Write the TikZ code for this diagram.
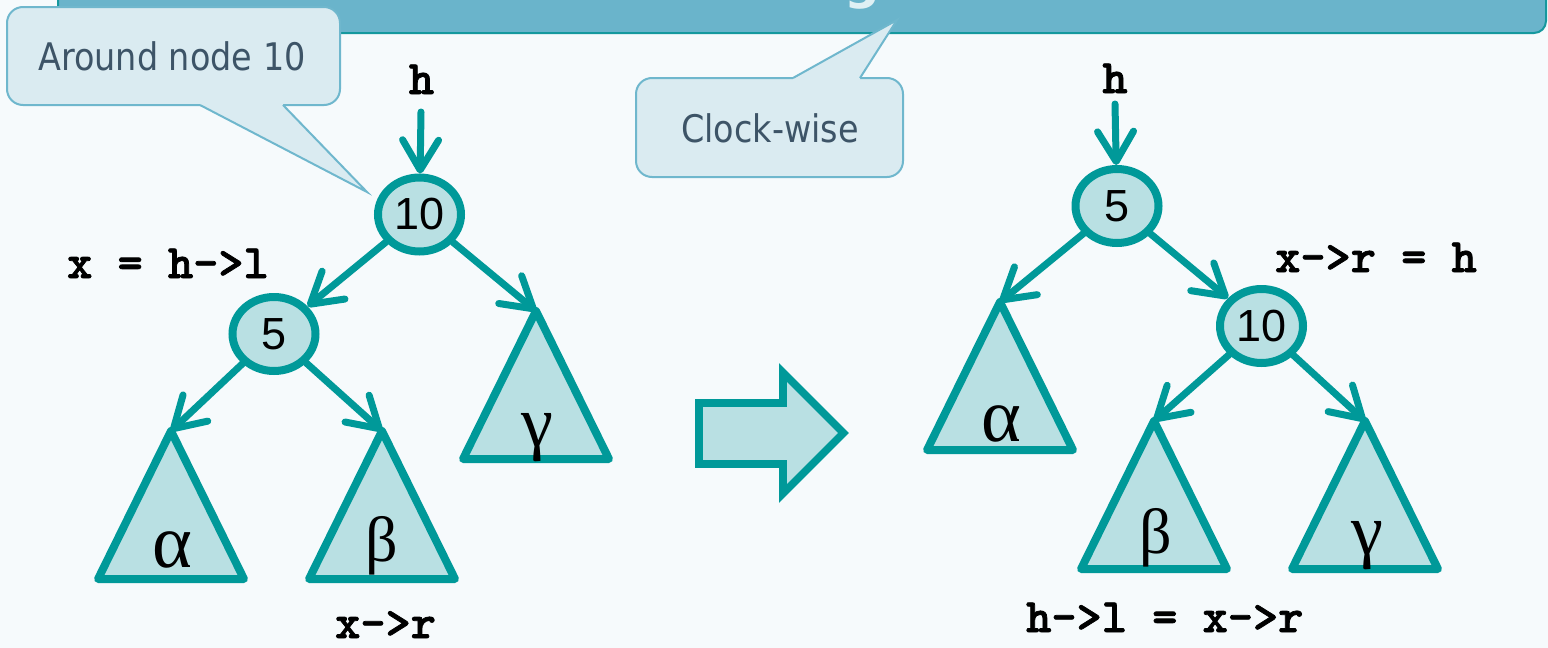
\documentclass[tikz,border=0pt]{standalone}
\usepackage{fontspec}
\usetikzlibrary{arrows.meta,shapes.geometric}
\newfontfamily\keyfont{Liberation Sans}
\newfontfamily\grkfont{Liberation Serif}
\newfontfamily\notefont{DejaVu Sans}[FakeStretch=0.88]
\newfontfamily\headfont{DejaVu Sans}
\newfontfamily\codefont{lmmonolt10-bold.otf}[FakeBold=1.6]

\definecolor{treeline}{HTML}{009999}
\definecolor{treefill}{HTML}{B9E0E3}
\definecolor{notefill}{HTML}{DAEBF1}
\definecolor{noteline}{HTML}{6FB7CD}
\definecolor{notetext}{HTML}{3D5467}
\definecolor{bannerfill}{HTML}{6AB4CB}
\definecolor{bannerline}{HTML}{15989E}
\definecolor{pagebg}{HTML}{F6FAFC}
\definecolor{headtext}{HTML}{DFF0F4}

\tikzset{
  treenode/.style={ellipse, draw=treeline, fill=treefill, line width=8pt,
    minimum width=83pt, minimum height=74pt, inner sep=0pt,
    font=\keyfont\fontsize{45}{45}\selectfont},
  link/.style={draw=treeline, line width=7pt, line cap=round,
    -{Straight Barb[length=30pt,width=36pt,round]}},
  subtree/.style={draw=treeline, fill=treefill, line width=8pt, line join=round},
  code/.style={font=\codefont\fontsize{48}{48}\selectfont, inner sep=0pt},
  greek/.style={inner sep=0pt, anchor=base},
  galpha/.style={greek, font=\grkfont\fontsize{76}{76}\selectfont},
  gbeta/.style={greek, font=\grkfont\fontsize{64}{64}\selectfont},
  ggamma/.style={greek, font=\grkfont\fontsize{72}{72}\selectfont},
  notebox/.style={fill=notefill, draw=noteline, line width=2pt},
  notelabel/.style={font=\notefont\fontsize{38}{40}\selectfont, text=notetext, inner sep=0pt},
  bigarrow/.style={draw=treeline, fill=treefill, line width=7.6pt},
}

\begin{document}
\begin{tikzpicture}[x=1pt,y=-1pt]
\clip (0,0) rectangle (1548,648);
\fill[pagebg] (0,0) rectangle (1548,648);

% title bar
\draw[fill=bannerfill, draw=bannerline, line width=2pt, rounded corners=12pt]
  (58,-30) -- (1546,-30) -- (1546,33) -- (58,33) -- cycle;
\node[font=\headfont\bfseries\fontsize{50}{50}\selectfont, text=headtext, anchor=base, inner sep=0pt]
  (titleg) at (862,-2) {g};

% callout: Around node 10
\draw[notebox, rounded corners=16pt] (7,7) rectangle (340,105);
\fill[notefill] (200,103) -- (200,105) -- (367,192) -- (283,105) -- (283,103) -- cycle;
\draw[noteline, line width=2pt, line join=miter] (200,105) -- (367,192) -- (283,105);
\node[notelabel] (noteA) at (172,56) {Around node 10};

% callout: Clock-wise
\draw[notebox, rounded corners=16pt] (636,78) rectangle (903,177);
\fill[notefill] (793,80) -- (793,78) -- (897,20) -- (860,78) -- (860,80) -- cycle;
\draw[noteline, line width=2pt, line join=miter] (793,78) -- (897,20) -- (860,78);
\node[notelabel] (noteB) at (770,128) {Clock-wise};

% ---------- left tree (before rotation) ----------
\node[code, anchor=base] (hL) at (421.5,94) {h};
\coordinate (hLs) at (421,112);
\node[treenode] (n10L) at (419.5,214.5) {10};
\node[treenode] (n5L) at (274,334) {5};

\coordinate (aL) at (171,431);
\coordinate (bL) at (382,431);
\coordinate (gL) at (536,311);
\draw[subtree] (aL) -- ++(-73,148) -- ++(146,0) -- cycle;
\draw[subtree] (bL) -- ++(-73,148) -- ++(146,0) -- cycle;
\draw[subtree] (gL) -- ++(-73,148) -- ++(146,0) -- cycle;
\node[galpha] (alphaL) at (172,567) {α};
\node[gbeta] (betaL) at (382,561) {β};
\node[ggamma] (gammaL) at (537,446) {γ};

\draw[link] (hLs) -- (n10L);
\draw[link] (n10L) -- (n5L);
\draw[link] (n10L) -- (gL);
\draw[link] (n5L) -- (aL);
\draw[link] (n5L) -- (bL);

\node[code, anchor=base west] (xset) at (67,278) {x = h->l};
\node[code, anchor=base west] (xr) at (335,638) {x->r};

% ---------- transition arrow ----------
\draw[bigarrow] (699,403) -- (783,403) -- (783,372.4) -- (843.6,433)
  -- (783,493.6) -- (783,464) -- (699,464) -- cycle;

% ---------- right tree (after rotation) ----------
\node[code, anchor=base] (hR) at (1115,93) {h};
\coordinate (hRs) at (1115,104);
\node[treenode] (n5R) at (1117,206) {5};
\node[treenode] (n10R) at (1261.5,326) {10};

\coordinate (aR) at (1000,302);
\coordinate (bR) at (1154,421);
\coordinate (gR) at (1365,421);
\draw[subtree] (aR) -- ++(-73,148) -- ++(146,0) -- cycle;
\draw[subtree] (bR) -- ++(-73,148) -- ++(146,0) -- cycle;
\draw[subtree] (gR) -- ++(-73,148) -- ++(146,0) -- cycle;
\node[galpha] (alphaR) at (1001,441) {α};
\node[gbeta] (betaR) at (1155.5,553) {β};
\node[ggamma] (gammaR) at (1367,554) {γ};

\draw[link] (hRs) -- (n5R);
\draw[link] (n5R) -- (aR);
\draw[link] (n5R) -- (n10R);
\draw[link] (n10R) -- (bR);
\draw[link] (n10R) -- (gR);

\node[code, anchor=base west] (xrset) at (1275,272) {x->r = h};
\node[code, anchor=base west] (hlset) at (1026,632) {h->l = x->r};
\end{tikzpicture}
\end{document}
